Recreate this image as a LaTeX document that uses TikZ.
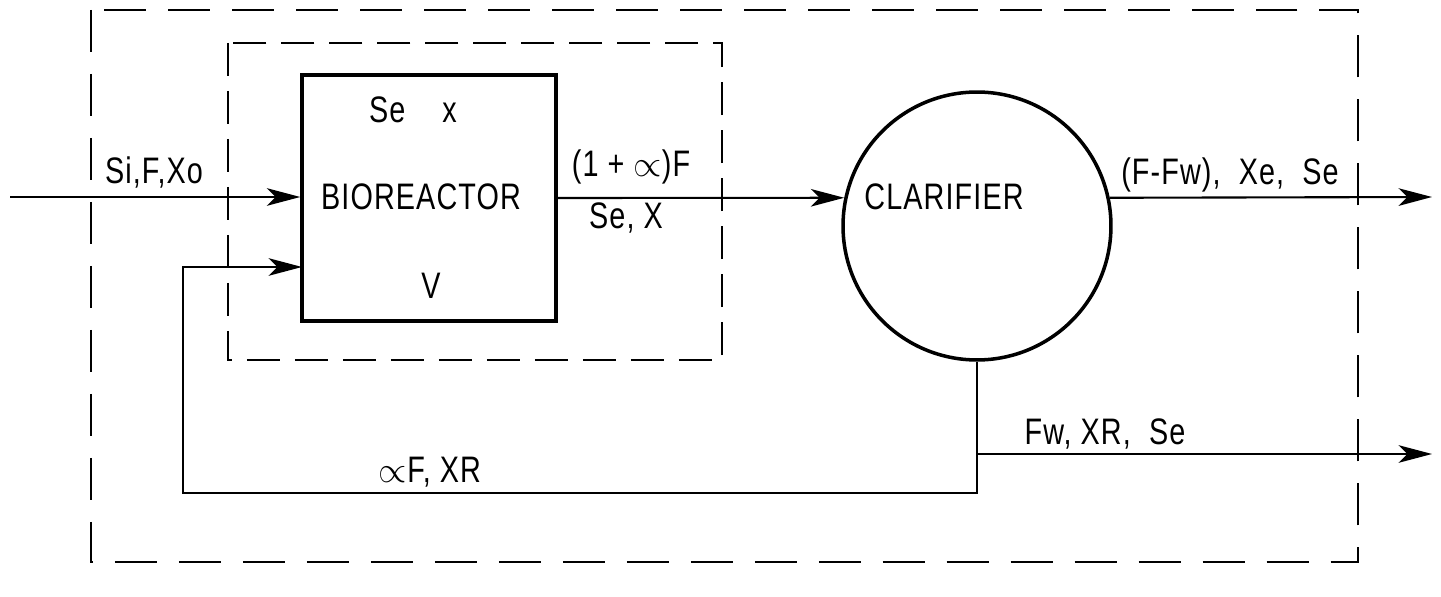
\documentclass[tikz,border=0pt]{standalone}
\usepackage{fontspec}
\setmainfont{Liberation Sans}[FakeStretch=0.78,LetterSpace=3]
\usetikzlibrary{arrows.meta}

\begin{document}
\begin{tikzpicture}[
  x=0.02cm, y=-0.02cm,
  every node/.style={font=\fontsize{21}{25}\selectfont,inner sep=0pt},
  pipe/.style={line width=1.2pt},
  flow/.style={pipe,-{Stealth[length=19pt,width=10pt,inset=5pt]}},
  unit/.style={draw,line width=2pt},
  boundary/.style={line width=1.4pt,dash pattern=on 0.84cm off 0.44cm},
  inner boundary/.style={line width=1.4pt,dash pattern=on 0.66cm off 0.3cm}
]
  \useasboundingbox (0,0) rectangle (1441,597);

  % system boundaries
  \draw[boundary] (91,10) rectangle (1358,562);
  \draw[inner boundary] (228,43) rectangle (722,360);

  \node[unit,minimum width=5.08cm,minimum height=4.92cm] (bio) at (429,198) {};
  \node[unit,circle,minimum size=5.36cm] (clar) at (977,226) {};

  \node (state) at (413,110) {Se\quad x};
  \node (biotext) at (421,197) {BIOREACTOR};
  \node (vol) at (431,286) {V};
  \node (clartext) at (944,197) {CLARIFIER};

  \coordinate (feed) at (10,197);
  \coordinate (effl) at (1432,197);
  \coordinate (wj) at (977,454);
  \coordinate (waste) at (1432,454);
  \coordinate (rc) at (183,493);
  \coordinate (rin) at (302,267);

  \draw[flow] (feed) -- (bio.west |- feed);
  \draw[flow] (bio.east) -- (clar.168);
  \draw[flow] (clar.12.5) -- (effl);
  \draw[flow] (clar.south) |- (rc) |- (rin);
  \draw[flow] (wj) -- (waste);

  \node (lfeed) at (154,172) {Si,F,Xo};
  \node (lmix) at (631,167) {(1 + $\propto$)F};
  \node (lmix2) at (626,218) {Se, X};
  \node (leffl) at (1230,175) {(F-Fw),\ \ Xe,\ \ Se};
  \node (lwaste) at (1105,434) {Fw,\ XR,\ \ Se};
  \node (lrec) at (430,472) {$\propto$F,\ XR};
\end{tikzpicture}
\end{document}
